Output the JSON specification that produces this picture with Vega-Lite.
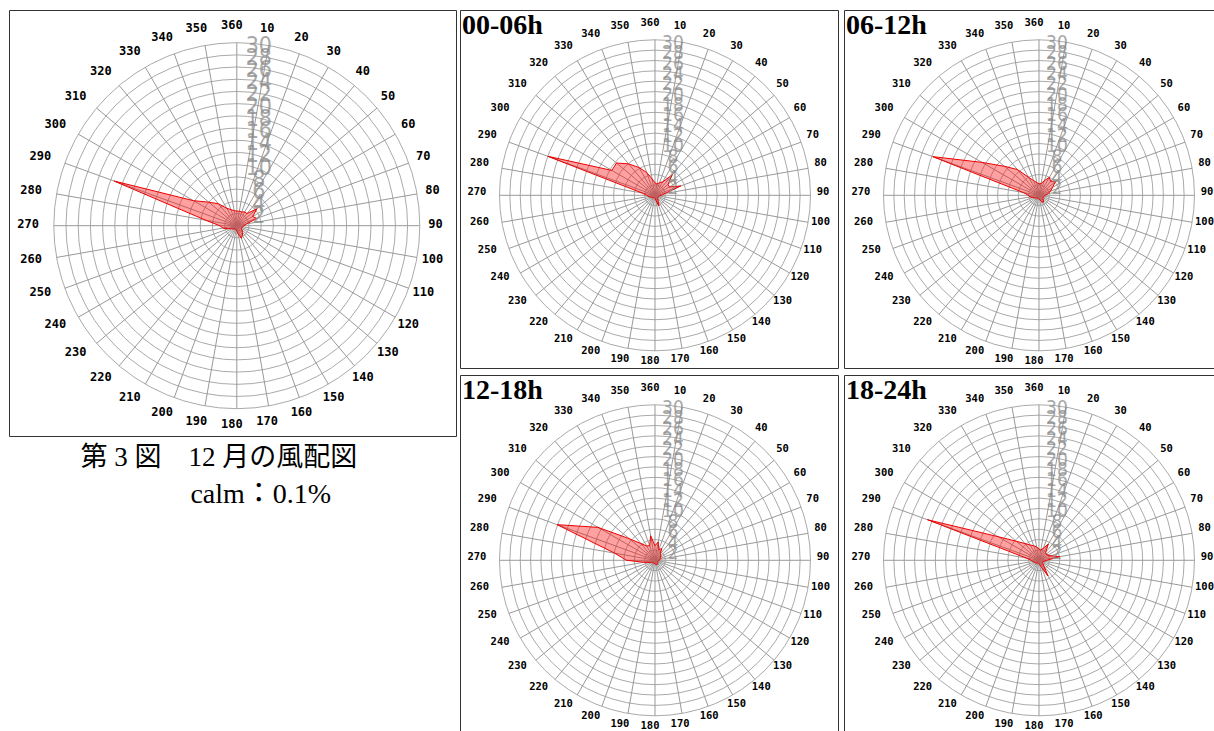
{
  "$schema": "https://vega.github.io/schema/vega-lite/v6.json",
  "padding": {"left": 8, "top": 9, "right": 0, "bottom": 0},
  "background": "white",
  "config": {"view": {"stroke": "#333333", "strokeWidth": 1}},
  "resolve": {"scale": {"size": "independent"}},
  "datasets": {
    "rings": [{"v":2},{"v":4},{"v":6},{"v":8},{"v":10},{"v":12},{"v":14},{"v":16},{"v":18},{"v":20},{"v":22},{"v":24},{"v":26},{"v":28},{"v":30}],
    "dirs": [{"d":10},{"d":20},{"d":30},{"d":40},{"d":50},{"d":60},{"d":70},{"d":80},{"d":90},{"d":100},{"d":110},{"d":120},{"d":130},{"d":140},{"d":150},{"d":160},{"d":170},{"d":180},{"d":190},{"d":200},{"d":210},{"d":220},{"d":230},{"d":240},{"d":250},{"d":260},{"d":270},{"d":280},{"d":290},{"d":300},{"d":310},{"d":320},{"d":330},{"d":340},{"d":350},{"d":360}],
    "caption1": [{"t": "第 3 図　12 月の風配図"}],
    "caption2": [{"t": "calm：0.1%"}],
    "rall": [{"d":10,"p":2.4},{"d":20,"p":2.4},{"d":30,"p":2.6},{"d":40,"p":2.6},{"d":50,"p":4.3},{"d":60,"p":3.0},{"d":70,"p":3.5},{"d":80,"p":1.6},{"d":90,"p":1.2},{"d":100,"p":1.0},{"d":110,"p":0.9},{"d":120,"p":0.9},{"d":130,"p":1.1},{"d":140,"p":1.5},{"d":150,"p":1.8},{"d":160,"p":2.2},{"d":170,"p":1.4},{"d":180,"p":0.9},{"d":190,"p":0.7},{"d":200,"p":0.6},{"d":210,"p":0.6},{"d":220,"p":0.7},{"d":230,"p":0.8},{"d":240,"p":1.0},{"d":250,"p":1.5},{"d":260,"p":2.3},{"d":270,"p":2.8},{"d":280,"p":5.2},{"d":290,"p":21.4},{"d":300,"p":8.2},{"d":310,"p":6.0},{"d":320,"p":4.7},{"d":330,"p":3.3},{"d":340,"p":2.8},{"d":350,"p":2.5},{"d":360,"p":2.4}],
    "r0006": [{"d":10,"p":2.2},{"d":20,"p":2.6},{"d":30,"p":3.0},{"d":40,"p":5.2},{"d":50,"p":3.3},{"d":60,"p":3.2},{"d":70,"p":5.3},{"d":80,"p":2.0},{"d":90,"p":1.2},{"d":100,"p":0.8},{"d":110,"p":0.7},{"d":120,"p":0.7},{"d":130,"p":0.7},{"d":140,"p":0.8},{"d":150,"p":1.2},{"d":160,"p":2.2},{"d":170,"p":1.0},{"d":180,"p":0.6},{"d":190,"p":0.5},{"d":200,"p":0.5},{"d":210,"p":0.5},{"d":220,"p":0.6},{"d":230,"p":0.7},{"d":240,"p":0.8},{"d":250,"p":1.0},{"d":260,"p":1.2},{"d":270,"p":1.6},{"d":280,"p":2.5},{"d":290,"p":22.0},{"d":300,"p":9.6},{"d":310,"p":9.7},{"d":320,"p":7.9},{"d":330,"p":6.2},{"d":340,"p":4.7},{"d":350,"p":3.2},{"d":360,"p":2.4}],
    "r0612": [{"d":10,"p":2.3},{"d":20,"p":3.0},{"d":30,"p":4.0},{"d":40,"p":3.5},{"d":50,"p":4.2},{"d":60,"p":3.0},{"d":70,"p":2.4},{"d":80,"p":1.8},{"d":90,"p":1.2},{"d":100,"p":1.0},{"d":110,"p":0.9},{"d":120,"p":0.9},{"d":130,"p":1.0},{"d":140,"p":1.4},{"d":150,"p":1.6},{"d":160,"p":1.2},{"d":170,"p":0.9},{"d":180,"p":0.7},{"d":190,"p":0.6},{"d":200,"p":0.6},{"d":210,"p":0.6},{"d":220,"p":0.7},{"d":230,"p":0.8},{"d":240,"p":1.0},{"d":250,"p":1.3},{"d":260,"p":1.8},{"d":270,"p":2.0},{"d":280,"p":3.1},{"d":290,"p":21.8},{"d":300,"p":12.7},{"d":310,"p":8.7},{"d":320,"p":6.5},{"d":330,"p":4.0},{"d":340,"p":3.0},{"d":350,"p":2.5},{"d":360,"p":2.2}],
    "r1218": [{"d":10,"p":3.6},{"d":20,"p":2.2},{"d":30,"p":2.6},{"d":40,"p":1.6},{"d":50,"p":1.5},{"d":60,"p":1.2},{"d":70,"p":1.3},{"d":80,"p":1.0},{"d":90,"p":0.8},{"d":100,"p":0.7},{"d":110,"p":0.6},{"d":120,"p":0.6},{"d":130,"p":0.7},{"d":140,"p":0.8},{"d":150,"p":0.9},{"d":160,"p":0.9},{"d":170,"p":0.8},{"d":180,"p":0.7},{"d":190,"p":0.6},{"d":200,"p":0.6},{"d":210,"p":0.6},{"d":220,"p":0.7},{"d":230,"p":0.7},{"d":240,"p":0.8},{"d":250,"p":1.2},{"d":260,"p":2.2},{"d":270,"p":5.5},{"d":280,"p":7.9},{"d":290,"p":20.1},{"d":300,"p":12.7},{"d":310,"p":6.5},{"d":320,"p":4.2},{"d":330,"p":3.2},{"d":340,"p":3.0},{"d":350,"p":4.8},{"d":360,"p":2.8}],
    "r1824": [{"d":10,"p":2.0},{"d":20,"p":2.5},{"d":30,"p":3.6},{"d":40,"p":2.0},{"d":50,"p":1.8},{"d":60,"p":2.0},{"d":70,"p":2.5},{"d":80,"p":4.1},{"d":90,"p":1.5},{"d":100,"p":1.0},{"d":110,"p":0.8},{"d":120,"p":0.8},{"d":130,"p":1.0},{"d":140,"p":1.5},{"d":150,"p":3.5},{"d":160,"p":1.5},{"d":170,"p":0.9},{"d":180,"p":0.7},{"d":190,"p":0.6},{"d":200,"p":0.6},{"d":210,"p":0.6},{"d":220,"p":0.7},{"d":230,"p":0.8},{"d":240,"p":0.9},{"d":250,"p":1.0},{"d":260,"p":1.2},{"d":270,"p":1.5},{"d":280,"p":2.5},{"d":290,"p":22.9},{"d":300,"p":9.1},{"d":310,"p":5.7},{"d":320,"p":4.2},{"d":330,"p":3.4},{"d":340,"p":3.0},{"d":350,"p":2.6},{"d":360,"p":2.2}]
  },
  "spacing": 2,
  "hconcat": [
    {
      "width": 447, "height": 426,
      "layer": [
        {"data": {"name": "rings"}, "mark": {"type": "point", "shape": "circle", "filled": false, "color": "#aaaaaa", "strokeWidth": 1, "opacity": 1},
         "encoding": {"x": {"datum": 0, "type": "quantitative", "scale": {"domain": [-37.34, 35.93], "nice": false, "zero": false}, "axis": null},
                      "y": {"datum": 0, "type": "quantitative", "scale": {"domain": [-34.48, 35.36], "nice": false, "zero": false}, "axis": null},
                      "size": {"field": "v", "type": "quantitative", "scale": {"type": "pow", "exponent": 2, "domain": [0, 30], "range": [0, 133956]}, "legend": null}}},
        {"data": {"name": "dirs"}, "transform": [{"filter": "datum.d <= 180"}, {"calculate": "30*sin(datum.d*PI/180)", "as": "sx"}, {"calculate": "30*cos(datum.d*PI/180)", "as": "sy"}, {"calculate": "-30*sin(datum.d*PI/180)", "as": "ex"}, {"calculate": "-30*cos(datum.d*PI/180)", "as": "ey"}],
         "mark": {"type": "rule", "color": "#999999", "strokeWidth": 1},
         "encoding": {"x": {"field": "sx", "type": "quantitative", "scale": {"domain": [-37.34, 35.93], "nice": false, "zero": false}, "axis": null},
                      "y": {"field": "sy", "type": "quantitative", "scale": {"domain": [-34.48, 35.36], "nice": false, "zero": false}, "axis": null},
                      "x2": {"field": "ex"}, "y2": {"field": "ey"}}},
        {"data": {"name": "rall"}, "transform": [{"calculate": "datum.p*sin(datum.d*PI/180)", "as": "px"}, {"calculate": "datum.p*cos(datum.d*PI/180)", "as": "py"}],
         "mark": {"type": "line", "interpolate": "linear-closed", "stroke": "#ee0000", "strokeWidth": 1, "fill": "#ff0000", "fillOpacity": 0.37},
         "encoding": {"x": {"field": "px", "type": "quantitative", "scale": {"domain": [-37.34, 35.93], "nice": false, "zero": false}, "axis": null},
                      "y": {"field": "py", "type": "quantitative", "scale": {"domain": [-34.48, 35.36], "nice": false, "zero": false}, "axis": null},
                      "order": {"field": "d", "type": "quantitative"}}},
        {"data": {"name": "rings"}, "mark": {"type": "text", "font": "Liberation Sans Narrow, DejaVu Sans Condensed", "fontSize": 23, "color": "#8c8c8c", "opacity": 0.75, "dx": 22, "dy": 3, "align": "center", "baseline": "middle"},
         "encoding": {"x": {"datum": 0, "type": "quantitative", "scale": {"domain": [-37.34, 35.93], "nice": false, "zero": false}, "axis": null},
                      "y": {"field": "v", "type": "quantitative", "scale": {"domain": [-34.48, 35.36], "nice": false, "zero": false}, "axis": null},
                      "text": {"field": "v", "type": "quantitative"}}},
        {"data": {"name": "dirs"}, "transform": [{"calculate": "33.4*sin(datum.d*PI/180)", "as": "lx"}, {"calculate": "32.7*cos(datum.d*PI/180)", "as": "ly"}],
         "mark": {"type": "text", "font": "DejaVu Sans Mono", "fontWeight": "bold", "fontSize": 12, "color": "#000000", "dx": -5, "dy": -1.5, "align": "center", "baseline": "middle"},
         "encoding": {"x": {"field": "lx", "type": "quantitative", "scale": {"domain": [-37.34, 35.93], "nice": false, "zero": false}, "axis": null},
                      "y": {"field": "ly", "type": "quantitative", "scale": {"domain": [-34.48, 35.36], "nice": false, "zero": false}, "axis": null},
                      "text": {"field": "d", "type": "nominal"}}},
        {"data": {"name": "caption1"}, "mark": {"type": "text", "font": "Liberation Serif, Noto Sans CJK JP", "fontSize": 27, "color": "#000000", "dx": -18, "dy": 30, "align": "center", "baseline": "alphabetic"},
         "encoding": {"x": {"datum": 0, "type": "quantitative", "scale": {"domain": [-37.34, 35.93], "nice": false, "zero": false}, "axis": null},
                      "y": {"datum": -34.48, "type": "quantitative", "scale": {"domain": [-34.48, 35.36], "nice": false, "zero": false}, "axis": null},
                      "text": {"field": "t", "type": "nominal"}}},
        {"data": {"name": "caption2"}, "mark": {"type": "text", "font": "Liberation Serif, Noto Sans CJK JP", "fontSize": 28, "color": "#000000", "dx": 24, "dy": 67, "align": "center", "baseline": "alphabetic"},
         "encoding": {"x": {"datum": 0, "type": "quantitative", "scale": {"domain": [-37.34, 35.93], "nice": false, "zero": false}, "axis": null},
                      "y": {"datum": -34.48, "type": "quantitative", "scale": {"domain": [-34.48, 35.36], "nice": false, "zero": false}, "axis": null},
                      "text": {"field": "t", "type": "nominal"}}}
      ]
    },
    {
      "columns": 2,
      "spacing": {"row": 7, "column": 6},
      "bounds": "flush",
      "align": "each",
      "concat": [
            {
              "width": 378, "height": 358,
              "layer": [
                {"data": {"name": "rings"}, "mark": {"type": "point", "shape": "circle", "filled": false, "color": "#aaaaaa", "strokeWidth": 1, "opacity": 1},
                 "encoding": {"x": {"datum": 0, "type": "quantitative", "scale": {"domain": [-37.62, 35.31], "nice": false, "zero": false}, "axis": null},
                              "y": {"datum": 0, "type": "quantitative", "scale": {"domain": [-33.32, 35.75], "nice": false, "zero": false}, "axis": null},
                              "size": {"field": "v", "type": "quantitative", "scale": {"type": "pow", "exponent": 2, "domain": [0, 30], "range": [0, 96721]}, "legend": null}}},
                {"data": {"name": "dirs"}, "transform": [{"filter": "datum.d <= 180"}, {"calculate": "30*sin(datum.d*PI/180)", "as": "sx"}, {"calculate": "30*cos(datum.d*PI/180)", "as": "sy"}, {"calculate": "-30*sin(datum.d*PI/180)", "as": "ex"}, {"calculate": "-30*cos(datum.d*PI/180)", "as": "ey"}],
                 "mark": {"type": "rule", "color": "#999999", "strokeWidth": 1},
                 "encoding": {"x": {"field": "sx", "type": "quantitative", "scale": {"domain": [-37.62, 35.31], "nice": false, "zero": false}, "axis": null},
                              "y": {"field": "sy", "type": "quantitative", "scale": {"domain": [-33.32, 35.75], "nice": false, "zero": false}, "axis": null},
                              "x2": {"field": "ex"}, "y2": {"field": "ey"}}},
                {"data": {"name": "r0006"}, "transform": [{"calculate": "datum.p*sin(datum.d*PI/180)", "as": "px"}, {"calculate": "datum.p*cos(datum.d*PI/180)", "as": "py"}],
                 "mark": {"type": "line", "interpolate": "linear-closed", "stroke": "#ee0000", "strokeWidth": 1, "fill": "#ff0000", "fillOpacity": 0.37},
                 "encoding": {"x": {"field": "px", "type": "quantitative", "scale": {"domain": [-37.62, 35.31], "nice": false, "zero": false}, "axis": null},
                              "y": {"field": "py", "type": "quantitative", "scale": {"domain": [-33.32, 35.75], "nice": false, "zero": false}, "axis": null},
                              "order": {"field": "d", "type": "quantitative"}}},
                {"data": {"name": "rings"}, "mark": {"type": "text", "font": "Liberation Sans Narrow, DejaVu Sans Condensed", "fontSize": 19, "color": "#8c8c8c", "opacity": 0.75, "dx": 18, "dy": 3, "align": "center", "baseline": "middle"},
                 "encoding": {"x": {"datum": 0, "type": "quantitative", "scale": {"domain": [-37.62, 35.31], "nice": false, "zero": false}, "axis": null},
                              "y": {"field": "v", "type": "quantitative", "scale": {"domain": [-33.32, 35.75], "nice": false, "zero": false}, "axis": null},
                              "text": {"field": "v", "type": "quantitative"}}},
                {"data": {"name": "dirs"}, "transform": [{"calculate": "33.4*sin(datum.d*PI/180)", "as": "lx"}, {"calculate": "32.6*cos(datum.d*PI/180)", "as": "ly"}],
                 "mark": {"type": "text", "font": "DejaVu Sans Mono", "fontWeight": "bold", "fontSize": 10.5, "color": "#000000", "dx": -5, "dy": -3, "align": "center", "baseline": "middle"},
                 "encoding": {"x": {"field": "lx", "type": "quantitative", "scale": {"domain": [-37.62, 35.31], "nice": false, "zero": false}, "axis": null},
                              "y": {"field": "ly", "type": "quantitative", "scale": {"domain": [-33.32, 35.75], "nice": false, "zero": false}, "axis": null},
                              "text": {"field": "d", "type": "nominal"}}},
                {"data": {"values": [{"t": "00-06h"}]}, "mark": {"type": "text", "font": "Liberation Serif", "fontWeight": "bold", "fontSize": 28, "color": "#000000", "dx": 2, "dy": 24, "align": "left", "baseline": "alphabetic"},
                 "encoding": {"x": {"datum": -37.62, "type": "quantitative", "scale": {"domain": [-37.62, 35.31], "nice": false, "zero": false}, "axis": null},
                              "y": {"datum": 35.75, "type": "quantitative", "scale": {"domain": [-33.32, 35.75], "nice": false, "zero": false}, "axis": null},
                              "text": {"field": "t", "type": "nominal"}}}
              ]
            },
            {
              "width": 372, "height": 358,
              "layer": [
                {"data": {"name": "rings"}, "mark": {"type": "point", "shape": "circle", "filled": false, "color": "#aaaaaa", "strokeWidth": 1, "opacity": 1},
                 "encoding": {"x": {"datum": 0, "type": "quantitative", "scale": {"domain": [-37.62, 34.15], "nice": false, "zero": false}, "axis": null},
                              "y": {"datum": 0, "type": "quantitative", "scale": {"domain": [-33.32, 35.75], "nice": false, "zero": false}, "axis": null},
                              "size": {"field": "v", "type": "quantitative", "scale": {"type": "pow", "exponent": 2, "domain": [0, 30], "range": [0, 96721]}, "legend": null}}},
                {"data": {"name": "dirs"}, "transform": [{"filter": "datum.d <= 180"}, {"calculate": "30*sin(datum.d*PI/180)", "as": "sx"}, {"calculate": "30*cos(datum.d*PI/180)", "as": "sy"}, {"calculate": "-30*sin(datum.d*PI/180)", "as": "ex"}, {"calculate": "-30*cos(datum.d*PI/180)", "as": "ey"}],
                 "mark": {"type": "rule", "color": "#999999", "strokeWidth": 1},
                 "encoding": {"x": {"field": "sx", "type": "quantitative", "scale": {"domain": [-37.62, 34.15], "nice": false, "zero": false}, "axis": null},
                              "y": {"field": "sy", "type": "quantitative", "scale": {"domain": [-33.32, 35.75], "nice": false, "zero": false}, "axis": null},
                              "x2": {"field": "ex"}, "y2": {"field": "ey"}}},
                {"data": {"name": "r0612"}, "transform": [{"calculate": "datum.p*sin(datum.d*PI/180)", "as": "px"}, {"calculate": "datum.p*cos(datum.d*PI/180)", "as": "py"}],
                 "mark": {"type": "line", "interpolate": "linear-closed", "stroke": "#ee0000", "strokeWidth": 1, "fill": "#ff0000", "fillOpacity": 0.37},
                 "encoding": {"x": {"field": "px", "type": "quantitative", "scale": {"domain": [-37.62, 34.15], "nice": false, "zero": false}, "axis": null},
                              "y": {"field": "py", "type": "quantitative", "scale": {"domain": [-33.32, 35.75], "nice": false, "zero": false}, "axis": null},
                              "order": {"field": "d", "type": "quantitative"}}},
                {"data": {"name": "rings"}, "mark": {"type": "text", "font": "Liberation Sans Narrow, DejaVu Sans Condensed", "fontSize": 19, "color": "#8c8c8c", "opacity": 0.75, "dx": 18, "dy": 3, "align": "center", "baseline": "middle"},
                 "encoding": {"x": {"datum": 0, "type": "quantitative", "scale": {"domain": [-37.62, 34.15], "nice": false, "zero": false}, "axis": null},
                              "y": {"field": "v", "type": "quantitative", "scale": {"domain": [-33.32, 35.75], "nice": false, "zero": false}, "axis": null},
                              "text": {"field": "v", "type": "quantitative"}}},
                {"data": {"name": "dirs"}, "transform": [{"calculate": "33.4*sin(datum.d*PI/180)", "as": "lx"}, {"calculate": "32.6*cos(datum.d*PI/180)", "as": "ly"}],
                 "mark": {"type": "text", "font": "DejaVu Sans Mono", "fontWeight": "bold", "fontSize": 10.5, "color": "#000000", "dx": -5, "dy": -3, "align": "center", "baseline": "middle"},
                 "encoding": {"x": {"field": "lx", "type": "quantitative", "scale": {"domain": [-37.62, 34.15], "nice": false, "zero": false}, "axis": null},
                              "y": {"field": "ly", "type": "quantitative", "scale": {"domain": [-33.32, 35.75], "nice": false, "zero": false}, "axis": null},
                              "text": {"field": "d", "type": "nominal"}}},
                {"data": {"values": [{"t": "06-12h"}]}, "mark": {"type": "text", "font": "Liberation Serif", "fontWeight": "bold", "fontSize": 28, "color": "#000000", "dx": 2, "dy": 24, "align": "left", "baseline": "alphabetic"},
                 "encoding": {"x": {"datum": -37.62, "type": "quantitative", "scale": {"domain": [-37.62, 34.15], "nice": false, "zero": false}, "axis": null},
                              "y": {"datum": 35.75, "type": "quantitative", "scale": {"domain": [-33.32, 35.75], "nice": false, "zero": false}, "axis": null},
                              "text": {"field": "t", "type": "nominal"}}}
              ]
            },
            {
              "width": 378, "height": 356,
              "layer": [
                {"data": {"name": "rings"}, "mark": {"type": "point", "shape": "circle", "filled": false, "color": "#aaaaaa", "strokeWidth": 1, "opacity": 1},
                 "encoding": {"x": {"datum": 0, "type": "quantitative", "scale": {"domain": [-37.62, 35.31], "nice": false, "zero": false}, "axis": null},
                              "y": {"datum": 0, "type": "quantitative", "scale": {"domain": [-32.94, 35.75], "nice": false, "zero": false}, "axis": null},
                              "size": {"field": "v", "type": "quantitative", "scale": {"type": "pow", "exponent": 2, "domain": [0, 30], "range": [0, 96721]}, "legend": null}}},
                {"data": {"name": "dirs"}, "transform": [{"filter": "datum.d <= 180"}, {"calculate": "30*sin(datum.d*PI/180)", "as": "sx"}, {"calculate": "30*cos(datum.d*PI/180)", "as": "sy"}, {"calculate": "-30*sin(datum.d*PI/180)", "as": "ex"}, {"calculate": "-30*cos(datum.d*PI/180)", "as": "ey"}],
                 "mark": {"type": "rule", "color": "#999999", "strokeWidth": 1},
                 "encoding": {"x": {"field": "sx", "type": "quantitative", "scale": {"domain": [-37.62, 35.31], "nice": false, "zero": false}, "axis": null},
                              "y": {"field": "sy", "type": "quantitative", "scale": {"domain": [-32.94, 35.75], "nice": false, "zero": false}, "axis": null},
                              "x2": {"field": "ex"}, "y2": {"field": "ey"}}},
                {"data": {"name": "r1218"}, "transform": [{"calculate": "datum.p*sin(datum.d*PI/180)", "as": "px"}, {"calculate": "datum.p*cos(datum.d*PI/180)", "as": "py"}],
                 "mark": {"type": "line", "interpolate": "linear-closed", "stroke": "#ee0000", "strokeWidth": 1, "fill": "#ff0000", "fillOpacity": 0.37},
                 "encoding": {"x": {"field": "px", "type": "quantitative", "scale": {"domain": [-37.62, 35.31], "nice": false, "zero": false}, "axis": null},
                              "y": {"field": "py", "type": "quantitative", "scale": {"domain": [-32.94, 35.75], "nice": false, "zero": false}, "axis": null},
                              "order": {"field": "d", "type": "quantitative"}}},
                {"data": {"name": "rings"}, "mark": {"type": "text", "font": "Liberation Sans Narrow, DejaVu Sans Condensed", "fontSize": 19, "color": "#8c8c8c", "opacity": 0.75, "dx": 18, "dy": 3, "align": "center", "baseline": "middle"},
                 "encoding": {"x": {"datum": 0, "type": "quantitative", "scale": {"domain": [-37.62, 35.31], "nice": false, "zero": false}, "axis": null},
                              "y": {"field": "v", "type": "quantitative", "scale": {"domain": [-32.94, 35.75], "nice": false, "zero": false}, "axis": null},
                              "text": {"field": "v", "type": "quantitative"}}},
                {"data": {"name": "dirs"}, "transform": [{"calculate": "33.4*sin(datum.d*PI/180)", "as": "lx"}, {"calculate": "32.6*cos(datum.d*PI/180)", "as": "ly"}],
                 "mark": {"type": "text", "font": "DejaVu Sans Mono", "fontWeight": "bold", "fontSize": 10.5, "color": "#000000", "dx": -5, "dy": -3, "align": "center", "baseline": "middle"},
                 "encoding": {"x": {"field": "lx", "type": "quantitative", "scale": {"domain": [-37.62, 35.31], "nice": false, "zero": false}, "axis": null},
                              "y": {"field": "ly", "type": "quantitative", "scale": {"domain": [-32.94, 35.75], "nice": false, "zero": false}, "axis": null},
                              "text": {"field": "d", "type": "nominal"}}},
                {"data": {"values": [{"t": "12-18h"}]}, "mark": {"type": "text", "font": "Liberation Serif", "fontWeight": "bold", "fontSize": 28, "color": "#000000", "dx": 2, "dy": 24, "align": "left", "baseline": "alphabetic"},
                 "encoding": {"x": {"datum": -37.62, "type": "quantitative", "scale": {"domain": [-37.62, 35.31], "nice": false, "zero": false}, "axis": null},
                              "y": {"datum": 35.75, "type": "quantitative", "scale": {"domain": [-32.94, 35.75], "nice": false, "zero": false}, "axis": null},
                              "text": {"field": "t", "type": "nominal"}}}
              ]
            },
            {
              "width": 372, "height": 356,
              "layer": [
                {"data": {"name": "rings"}, "mark": {"type": "point", "shape": "circle", "filled": false, "color": "#aaaaaa", "strokeWidth": 1, "opacity": 1},
                 "encoding": {"x": {"datum": 0, "type": "quantitative", "scale": {"domain": [-37.62, 34.15], "nice": false, "zero": false}, "axis": null},
                              "y": {"datum": 0, "type": "quantitative", "scale": {"domain": [-32.94, 35.75], "nice": false, "zero": false}, "axis": null},
                              "size": {"field": "v", "type": "quantitative", "scale": {"type": "pow", "exponent": 2, "domain": [0, 30], "range": [0, 96721]}, "legend": null}}},
                {"data": {"name": "dirs"}, "transform": [{"filter": "datum.d <= 180"}, {"calculate": "30*sin(datum.d*PI/180)", "as": "sx"}, {"calculate": "30*cos(datum.d*PI/180)", "as": "sy"}, {"calculate": "-30*sin(datum.d*PI/180)", "as": "ex"}, {"calculate": "-30*cos(datum.d*PI/180)", "as": "ey"}],
                 "mark": {"type": "rule", "color": "#999999", "strokeWidth": 1},
                 "encoding": {"x": {"field": "sx", "type": "quantitative", "scale": {"domain": [-37.62, 34.15], "nice": false, "zero": false}, "axis": null},
                              "y": {"field": "sy", "type": "quantitative", "scale": {"domain": [-32.94, 35.75], "nice": false, "zero": false}, "axis": null},
                              "x2": {"field": "ex"}, "y2": {"field": "ey"}}},
                {"data": {"name": "r1824"}, "transform": [{"calculate": "datum.p*sin(datum.d*PI/180)", "as": "px"}, {"calculate": "datum.p*cos(datum.d*PI/180)", "as": "py"}],
                 "mark": {"type": "line", "interpolate": "linear-closed", "stroke": "#ee0000", "strokeWidth": 1, "fill": "#ff0000", "fillOpacity": 0.37},
                 "encoding": {"x": {"field": "px", "type": "quantitative", "scale": {"domain": [-37.62, 34.15], "nice": false, "zero": false}, "axis": null},
                              "y": {"field": "py", "type": "quantitative", "scale": {"domain": [-32.94, 35.75], "nice": false, "zero": false}, "axis": null},
                              "order": {"field": "d", "type": "quantitative"}}},
                {"data": {"name": "rings"}, "mark": {"type": "text", "font": "Liberation Sans Narrow, DejaVu Sans Condensed", "fontSize": 19, "color": "#8c8c8c", "opacity": 0.75, "dx": 18, "dy": 3, "align": "center", "baseline": "middle"},
                 "encoding": {"x": {"datum": 0, "type": "quantitative", "scale": {"domain": [-37.62, 34.15], "nice": false, "zero": false}, "axis": null},
                              "y": {"field": "v", "type": "quantitative", "scale": {"domain": [-32.94, 35.75], "nice": false, "zero": false}, "axis": null},
                              "text": {"field": "v", "type": "quantitative"}}},
                {"data": {"name": "dirs"}, "transform": [{"calculate": "33.4*sin(datum.d*PI/180)", "as": "lx"}, {"calculate": "32.6*cos(datum.d*PI/180)", "as": "ly"}],
                 "mark": {"type": "text", "font": "DejaVu Sans Mono", "fontWeight": "bold", "fontSize": 10.5, "color": "#000000", "dx": -5, "dy": -3, "align": "center", "baseline": "middle"},
                 "encoding": {"x": {"field": "lx", "type": "quantitative", "scale": {"domain": [-37.62, 34.15], "nice": false, "zero": false}, "axis": null},
                              "y": {"field": "ly", "type": "quantitative", "scale": {"domain": [-32.94, 35.75], "nice": false, "zero": false}, "axis": null},
                              "text": {"field": "d", "type": "nominal"}}},
                {"data": {"values": [{"t": "18-24h"}]}, "mark": {"type": "text", "font": "Liberation Serif", "fontWeight": "bold", "fontSize": 28, "color": "#000000", "dx": 2, "dy": 24, "align": "left", "baseline": "alphabetic"},
                 "encoding": {"x": {"datum": -37.62, "type": "quantitative", "scale": {"domain": [-37.62, 34.15], "nice": false, "zero": false}, "axis": null},
                              "y": {"datum": 35.75, "type": "quantitative", "scale": {"domain": [-32.94, 35.75], "nice": false, "zero": false}, "axis": null},
                              "text": {"field": "t", "type": "nominal"}}}
              ]
            }
      ]
    }
  ]
}
